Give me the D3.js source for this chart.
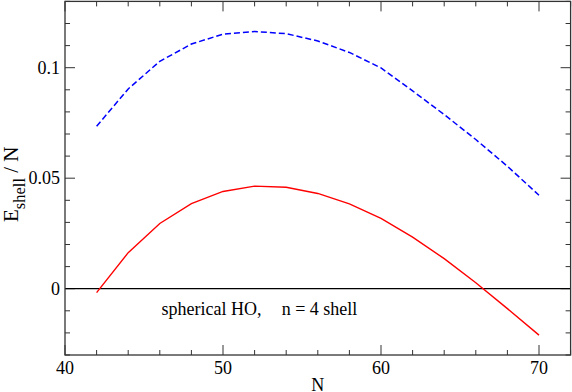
<!DOCTYPE html>
<html><head><meta charset="utf-8">
<script src="https://cdn.jsdelivr.net/npm/d3@7"></script>
<style>body{margin:0;background:#fff}svg{display:block}</style>
</head><body><svg id="c" width="572" height="392" font-family="'Liberation Serif', 'Times New Roman', 'DejaVu Serif', serif"></svg>
<script>
const N = [42,44,46,48,50,52,54,56,58,60,62,64,66,68,70];
const redSeries = [-0.0018,0.0163,0.0295,0.0385,0.0440,0.0464,0.0459,0.0431,0.0384,0.0318,0.0233,0.0136,0.0027,-0.0090,-0.0210];
const blueSeries = [0.0735,0.0904,0.1029,0.1107,0.1152,0.1164,0.1154,0.1121,0.1069,0.0999,0.0895,0.0788,0.0675,0.0554,0.0423];
const xTicks = [40,50,60,70];
const xMinor = [42,44,46,48,52,54,56,58,62,64,66,68,72];
const yTicks = [0,0.05,0.1];
const yTickLabels = ["0","0.05","0.1"];
const yMinor = [-0.03,-0.02,-0.01,0.01,0.02,0.03,0.04,0.06,0.07,0.08,0.09,0.11,0.12,0.13];

const svg = d3.select("#c");
const L=65, R=570.6, T=1.4, B=355;
const x = d3.scaleLinear().domain([40,72]).range([L,R]);
const y = d3.scaleLinear().domain([-0.03,0.13]).range([B,T]);
const axc = "#333";

const g = svg.append("g").attr("stroke",axc).attr("stroke-width",1);
xTicks.forEach(v=>{g.append("line").attr("x1",x(v)).attr("x2",x(v)).attr("y1",B).attr("y2",B-10);
  g.append("line").attr("x1",x(v)).attr("x2",x(v)).attr("y1",T).attr("y2",T+10);});
xMinor.forEach(v=>{g.append("line").attr("x1",x(v)).attr("x2",x(v)).attr("y1",B).attr("y2",B-5);
  g.append("line").attr("x1",x(v)).attr("x2",x(v)).attr("y1",T).attr("y2",T+5);});
yTicks.forEach(v=>{g.append("line").attr("y1",y(v)).attr("y2",y(v)).attr("x1",L).attr("x2",L+10);
  g.append("line").attr("y1",y(v)).attr("y2",y(v)).attr("x1",R).attr("x2",R-10);});
yMinor.forEach(v=>{g.append("line").attr("y1",y(v)).attr("y2",y(v)).attr("x1",L).attr("x2",L+5);
  g.append("line").attr("y1",y(v)).attr("y2",y(v)).attr("x1",R).attr("x2",R-5);});

svg.append("line").attr("x1",L).attr("x2",R).attr("y1",y(0)).attr("y2",y(0)).attr("stroke","#000").attr("stroke-width",1.2);

svg.append("rect").attr("x",L).attr("y",T).attr("width",R-L).attr("height",B-T)
  .attr("fill","none").attr("stroke",axc).attr("stroke-width",1.3);

const line = d3.line().x((d,i)=>x(N[i])).y(d=>y(d));
svg.append("path").datum(redSeries).attr("d",line).attr("fill","none").attr("stroke","#ff0000").attr("stroke-width",1.4);
svg.append("path").datum(blueSeries).attr("d",line).attr("fill","none").attr("stroke","#0000ff").attr("stroke-width",1.5).attr("stroke-dasharray","6,3");

xTicks.forEach(v=>svg.append("text").attr("x",x(v)).attr("y",373.5).attr("text-anchor","middle").attr("font-size",18).text(v));
yTicks.forEach((v,i)=>svg.append("text").attr("x",60).attr("y",y(v)+6).attr("text-anchor","end").attr("font-size",18).text(yTickLabels[i]));

svg.append("text").attr("x",(L+R)/2).attr("y",390.5).attr("text-anchor","middle").attr("font-size",18).text("N");
const yl = svg.append("text").attr("transform","translate(17.5,222) rotate(-90)").attr("font-size",21);
yl.append("tspan").text("E");
yl.append("tspan").attr("font-size",16.5).attr("dy",7).text("shell");
yl.append("tspan").attr("dy",-7).text(" / N");

svg.append("text").attr("x",161.5).attr("y",315).attr("font-size",18).text("spherical HO,");
svg.append("text").attr("x",281.7).attr("y",315).attr("font-size",18).text("n = 4 shell");
</script></body></html>
